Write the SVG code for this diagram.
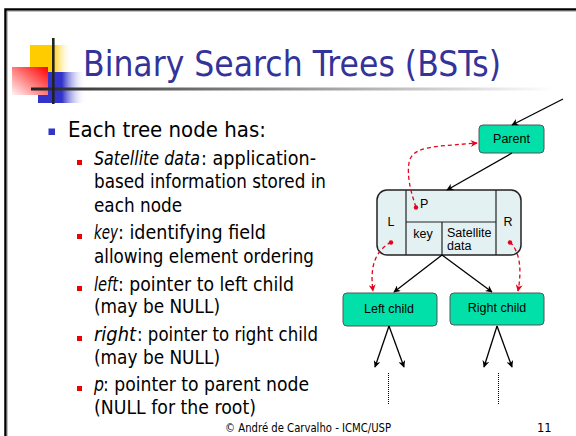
<svg xmlns="http://www.w3.org/2000/svg" width="576" height="436" viewBox="0 0 576 436">
<defs>
<linearGradient id="gYel" x1="0" y1="0" x2="1" y2="0"><stop offset="0" stop-color="#ffcc00"/><stop offset="0.55" stop-color="#ffcc00"/><stop offset="1" stop-color="#ffffff" stop-opacity="0"/></linearGradient>
<linearGradient id="gBlu" x1="0" y1="0" x2="1" y2="0"><stop offset="0" stop-color="#3333cc"/><stop offset="0.5" stop-color="#3333cc"/><stop offset="1" stop-color="#ffffff" stop-opacity="0"/></linearGradient>
<linearGradient id="gRed" x1="1" y1="0" x2="0" y2="1"><stop offset="0" stop-color="#ff0000"/><stop offset="1" stop-color="#fff4f4"/></linearGradient>
<linearGradient id="gLine" gradientUnits="userSpaceOnUse" x1="31" y1="0" x2="555" y2="0"><stop offset="0" stop-color="#222"/><stop offset="0.12" stop-color="#444"/><stop offset="1" stop-color="#fff"/></linearGradient>
<marker id="ab" viewBox="0 0 10 10" refX="9" refY="5" markerWidth="7" markerHeight="7" markerUnits="userSpaceOnUse" orient="auto"><path d="M0,0 L10,5 L0,10 L3,5 z" fill="#000"/></marker>
<marker id="ar" viewBox="0 0 10 10" refX="9" refY="5" markerWidth="7" markerHeight="7" markerUnits="userSpaceOnUse" orient="auto"><path d="M0,0 L10,5 L0,10 L3,5 z" fill="#e8001c"/></marker>
</defs>
<style>
.body{font-family:"DejaVu Sans",Verdana,sans-serif;font-size:19px;fill:#000}
.it{font-style:italic}
.lvl1{font-family:"DejaVu Sans",Verdana,sans-serif;font-size:22px;fill:#000}
.dg{font-family:"Liberation Sans",Arial,sans-serif;font-size:12.5px;fill:#000}
.box{fill:#00e0a8;stroke:#555;stroke-width:1}
.cn{fill:none;stroke:#000;stroke-width:1.3}
.rd{fill:none;stroke:#e8001c;stroke-width:1.3;stroke-dasharray:4 3}
.b2{fill:#ee0000}
</style>
<rect width="576" height="436" fill="#fff"/>
<!-- frame -->
<path d="M5.5,436 V9.5 H576" fill="none" stroke="#000" stroke-width="2.5"/>
<path d="M7,436 V11 H576" fill="none" stroke="#888" stroke-width="1"/>
<!-- title decoration -->
<g id="title-deco">
<rect x="30" y="45" width="42" height="27" fill="url(#gYel)"/>
<rect x="38" y="72" width="48" height="31" fill="url(#gBlu)"/>
<rect x="12" y="67" width="36" height="28" fill="url(#gRed)"/>
<rect x="31" y="87.5" width="524" height="3" fill="url(#gLine)"/>
<rect x="52" y="38" width="2.6" height="66" fill="#222"/>
</g>
<text id="title" x="83" y="76" font-family="'DejaVu Sans',Verdana,sans-serif" font-size="35" fill="#333399" textLength="418" lengthAdjust="spacingAndGlyphs">Binary Search Trees (BSTs)</text>
<!-- bullets -->
<g id="bullets">
<rect x="48.5" y="128.5" width="6.5" height="6.5" fill="#3333cc"/>
<text class="lvl1" x="68" y="137" textLength="198" lengthAdjust="spacingAndGlyphs">Each tree node has:</text>
<rect class="b2" x="77" y="160" width="5" height="5"/>
<text class="body it" x="94" y="165" textLength="106" lengthAdjust="spacingAndGlyphs">Satellite data</text>
<text class="body" x="201" y="165" textLength="115" lengthAdjust="spacingAndGlyphs">: application-</text>
<text class="body" x="94" y="188" textLength="232" lengthAdjust="spacingAndGlyphs">based information stored in</text>
<text class="body" x="94" y="212" textLength="88" lengthAdjust="spacingAndGlyphs">each node</text>
<rect class="b2" x="77" y="234" width="5" height="5"/>
<text class="body it" x="94" y="239" textLength="24" lengthAdjust="spacingAndGlyphs">key</text>
<text class="body" x="118" y="239" textLength="148" lengthAdjust="spacingAndGlyphs">: identifying field</text>
<text class="body" x="94" y="263" textLength="220" lengthAdjust="spacingAndGlyphs">allowing element ordering</text>
<rect class="b2" x="77" y="286" width="5" height="5"/>
<text class="body it" x="94" y="291" textLength="24" lengthAdjust="spacingAndGlyphs">left</text>
<text class="body" x="118" y="291" textLength="176" lengthAdjust="spacingAndGlyphs">: pointer to left child</text>
<text class="body" x="94" y="313" textLength="126" lengthAdjust="spacingAndGlyphs">(may be NULL)</text>
<rect class="b2" x="77" y="336" width="5" height="5"/>
<text class="body it" x="94" y="341" textLength="42" lengthAdjust="spacingAndGlyphs">right</text>
<text class="body" x="137" y="341" textLength="181" lengthAdjust="spacingAndGlyphs">: pointer to right child</text>
<text class="body" x="94" y="364" textLength="126" lengthAdjust="spacingAndGlyphs">(may be NULL)</text>
<rect class="b2" x="77" y="386" width="5" height="5"/>
<text class="body it" x="94" y="391" textLength="10" lengthAdjust="spacingAndGlyphs">p</text>
<text class="body" x="103" y="391" textLength="206" lengthAdjust="spacingAndGlyphs">: pointer to parent node</text>
<text class="body" x="94" y="414" textLength="162" lengthAdjust="spacingAndGlyphs">(NULL for the root)</text>
</g>
<!-- nodes -->
<g id="parent">
<rect class="box" x="479" y="125" width="65" height="28" rx="4"/>
<text class="dg" x="511.5" y="143" text-anchor="middle">Parent</text>
</g>
<g id="node">
<rect x="377" y="190" width="144" height="65" rx="10" fill="#e3f1f3" stroke="#222" stroke-width="1.5"/>
<path d="M406,190 V255 M496,190 V255 M406,222 H496 M442,222 V255" fill="none" stroke="#222" stroke-width="1.2"/>
<text class="dg" x="391" y="226" text-anchor="middle">L</text>
<text class="dg" x="508" y="226" text-anchor="middle">R</text>
<text class="dg" x="420" y="208">P</text>
<text class="dg" x="423" y="238" text-anchor="middle">key</text>
<text class="dg" x="447" y="237" font-size="11.5">Satellite</text>
<text class="dg" x="447" y="250" font-size="11.5">data</text>
</g>
<g id="left-child">
<rect class="box" x="343" y="293" width="94" height="33" rx="4"/>
<text class="dg" x="389" y="313" text-anchor="middle">Left child</text>
</g>
<g id="right-child">
<rect class="box" x="450" y="293" width="94" height="32" rx="4"/>
<text class="dg" x="497" y="312" text-anchor="middle">Right child</text>
</g>
<!-- connectors -->
<g id="connectors">
<line class="cn" x1="563" y1="99" x2="512" y2="125" marker-end="url(#ab)"/>
<line class="cn" x1="512" y1="153" x2="447" y2="190" marker-end="url(#ab)"/>
<line class="cn" x1="442" y1="255" x2="394" y2="292" marker-end="url(#ab)"/>
<line class="cn" x1="442" y1="255" x2="492" y2="292" marker-end="url(#ab)"/>
<line class="cn" x1="389" y1="326" x2="375" y2="367" marker-end="url(#ab)"/>
<line class="cn" x1="389" y1="326" x2="404" y2="367" marker-end="url(#ab)"/>
<line class="cn" x1="497" y1="326" x2="484" y2="367" marker-end="url(#ab)"/>
<line class="cn" x1="497" y1="326" x2="512" y2="367" marker-end="url(#ab)"/>
<line x1="388.5" y1="373" x2="388.5" y2="404" stroke="#000" stroke-width="1" stroke-dasharray="1 1"/>
<line x1="498.5" y1="373" x2="498.5" y2="404" stroke="#000" stroke-width="1" stroke-dasharray="1 1"/>
<path class="rd" d="M416,207 C410,190 407,175 409,163 C411,150 425,148 440,146 L477,143" marker-end="url(#ar)"/>
<path class="rd" d="M391,242 C378,250 369,262 373,291" marker-end="url(#ar)"/>
<path class="rd" d="M510,242 C520,252 522,270 518,291" marker-end="url(#ar)"/>
<circle cx="416" cy="207.5" r="2.2" fill="#e8001c"/>
<circle cx="391" cy="242.5" r="2.2" fill="#e8001c"/>
<circle cx="510" cy="242.5" r="2.2" fill="#e8001c"/>
</g>
<!-- footer -->
<text x="225" y="432" font-family="'DejaVu Sans',Verdana,sans-serif" font-size="11.5" fill="#000" textLength="166" lengthAdjust="spacingAndGlyphs">© André de Carvalho - ICMC/USP</text>
<text x="537" y="432" font-family="'DejaVu Sans',Verdana,sans-serif" font-size="11.5" fill="#000">11</text>
</svg>
